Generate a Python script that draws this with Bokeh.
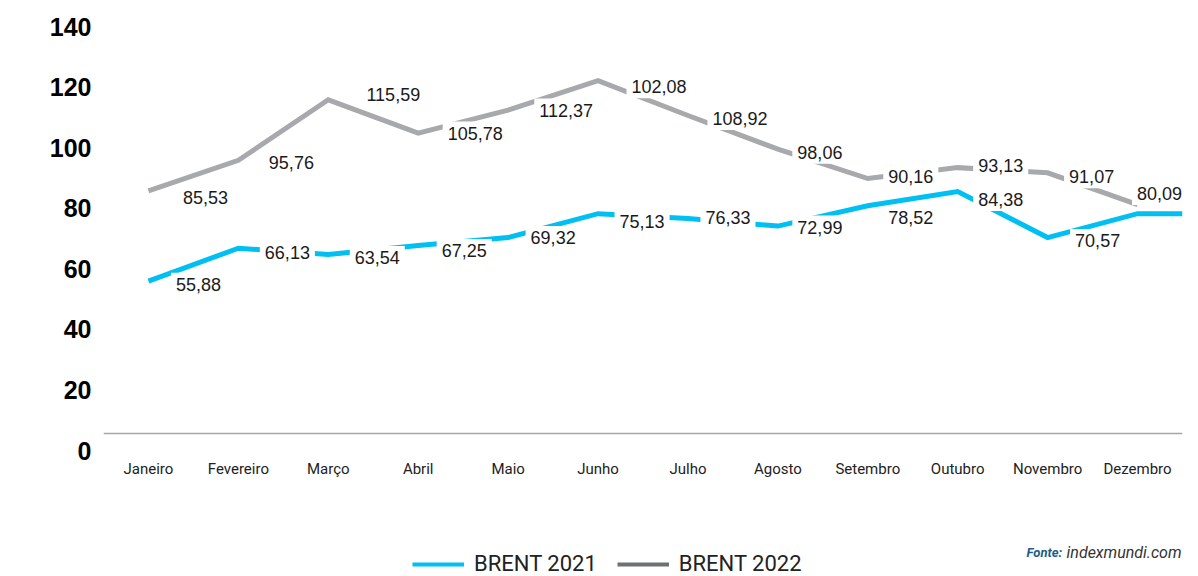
from bokeh.plotting import figure
from bokeh.layouts import column
from bokeh.models import Range1d, FixedTicker, Span, Legend, LegendItem, Label, ColumnDataSource
from bokeh.core.properties import value
from bokeh.embed import file_html
from bokeh.resources import INLINE

# ---- data ----
months = ["Janeiro", "Fevereiro", "Março", "Abril", "Maio", "Junho",
          "Julho", "Agosto", "Setembro", "Outubro", "Novembro", "Dezembro"]
brent_2021 = [55.9, 66.8, 64.7, 67.7, 70.3, 78.2, 76.6, 74.1, 80.8, 85.5, 70.3, 78.2]
brent_2022 = [85.7, 95.8, 115.8, 104.8, 112.4, 122.1, 110.6, 99.5, 89.8, 93.4, 91.7, 81.2]
labels_2021 = ["55,88", "66,13", "63,54", "67,25", "69,32", "75,13",
               "76,33", "72,99", "78,52", "84,38", "70,57"]
labels_2022 = ["85,53", "95,76", "115,59", "105,78", "112,37", "102,08",
               "108,92", "98,06", "90,16", "93,13", "91,07", "80,09"]
y_ticks = [0, 20, 40, 60, 80, 100, 120, 140]
series_names = ["BRENT 2021", "BRENT 2022"]
source_note = ("Fonte:", "indexmundi.com")

# label placement (screen-pixel offsets of each data label from its point)
dx_2021 = [50, 49, 49, 46, 45, 44, 40, 42, 43, 43, 50]
dy_2021 = [3, 4, 3, 5, 0, 8, -1, 1, 12, 8, 3]
dx_2022 = [57, 53, 65, 57, 58, 61, 52, 42, 43, 43, 44, 22]
dy_2022 = [7, 2, -5, 0, 0, 6, 3, 3, -2, -2, 4, -11]

CYAN = "#00bff3"
GREY = "#a7a9ac"
GREY_LEG = "#6f7073"

BL, BR = 103, 16  # left/right borders shared by both stacked figures

xs = list(range(len(months)))
x_end = len(months) - 0.5

p = figure(width=1198, height=490, output_backend="svg", toolbar_location=None,
           x_range=Range1d(-0.5, x_end), y_range=Range1d(y_ticks[0], y_ticks[-1]),
           min_border_left=BL, min_border_right=BR, min_border_top=26, min_border_bottom=40,
           background_fill_color="white", border_fill_color="white")
p.outline_line_color = None
p.grid.visible = False

# axes
p.xaxis.ticker = FixedTicker(ticks=xs)
p.xaxis.major_label_overrides = {i: m for i, m in zip(xs, months)}
p.xaxis.axis_line_color = None
p.xaxis.major_tick_line_color = None
p.xaxis.minor_tick_line_color = None
p.xaxis.major_label_standoff = 3
p.xaxis.major_label_text_font = "Roboto"
p.xaxis.major_label_text_font_size = "15px"
p.xaxis.major_label_text_color = "#222222"

p.yaxis.ticker = FixedTicker(ticks=y_ticks)
p.yaxis.axis_line_color = None
p.yaxis.major_tick_line_color = None
p.yaxis.minor_tick_line_color = None
p.yaxis.major_label_standoff = 6
p.yaxis.major_label_text_font = "Liberation Sans"
p.yaxis.major_label_text_font_style = "bold"
p.yaxis.major_label_text_font_size = "25px"
p.yaxis.major_label_text_color = "#000000"

# category axis line
p.add_layout(Span(location=5.6, dimension="width", line_color="#a6a6a6", line_width=1.5))

# lines
p.line(x=xs + [x_end], y=brent_2021 + [brent_2021[-1]], line_color=CYAN, line_width=5, line_join="miter")
p.line(x=xs, y=brent_2022, line_color=GREY, line_width=5, line_join="miter")

# data labels with white boxes
n22, n21 = len(labels_2022), len(labels_2021)
src22 = ColumnDataSource(dict(x=xs[:n22], y=brent_2022[:n22], t=labels_2022, dx=dx_2022, dy=dy_2022))
src21 = ColumnDataSource(dict(x=xs[:n21], y=brent_2021[:n21], t=labels_2021, dx=dx_2021, dy=dy_2021))
common = dict(x="x", y="y", text="t", x_offset="dx", y_offset="dy",
              text_align="center", text_baseline="middle",
              text_font=value("Liberation Sans"), text_font_size="18px", text_color="#1a1a1a",
              background_fill_color="white", padding=5)
p.text(source=src22, **common)
p.text(source=src21, **common)

# ---- bottom strip: legend + source note (frame aligned with the chart's frame) ----
b = figure(width=1198, height=86, output_backend="svg", toolbar_location=None,
           x_range=Range1d(0, 1), y_range=Range1d(0, 1),
           x_axis_type=None, y_axis_type=None,
           min_border_left=BL, min_border_right=BR, min_border_top=0, min_border_bottom=0,
           background_fill_color="white", border_fill_color="white")
b.outline_line_color = None
b.grid.visible = False

# legend sample lines (kept outside the visible range; only their legend swatches show)
r_l21 = b.line(x=[-2, -1], y=[-2, -2], line_color=CYAN, line_width=4)
r_l22 = b.line(x=[-2, -1], y=[-2, -2], line_color=GREY_LEG, line_width=4)
legend = Legend(items=[LegendItem(label=series_names[0], renderers=[r_l21]),
                       LegendItem(label=series_names[1], renderers=[r_l22])],
                location=(412 - BL, 0), orientation="horizontal",
                border_line_color=None, background_fill_alpha=0,
                padding=0, margin=0, spacing=20, glyph_width=52, glyph_height=20,
                label_standoff=10, label_height=20,
                label_text_font="Roboto", label_text_font_size="22px",
                label_text_color="#222222")
b.add_layout(legend)

b.add_layout(Label(x=1026 - BL, y=24, x_units="screen", y_units="screen", text=source_note[0],
                   text_font="Roboto", text_font_style="bold italic",
                   text_font_size="13px", text_color="#1f5c85", text_baseline="middle"))
b.add_layout(Label(x=1181 - BL, y=24, x_units="screen", y_units="screen", text=source_note[1],
                   text_font="Roboto", text_font_style="italic", text_align="right",
                   text_font_size="16px", text_color="#333333", text_baseline="middle"))

layout = column(p, b, spacing=0)
open("out.html", "w").write(file_html(layout, INLINE))
